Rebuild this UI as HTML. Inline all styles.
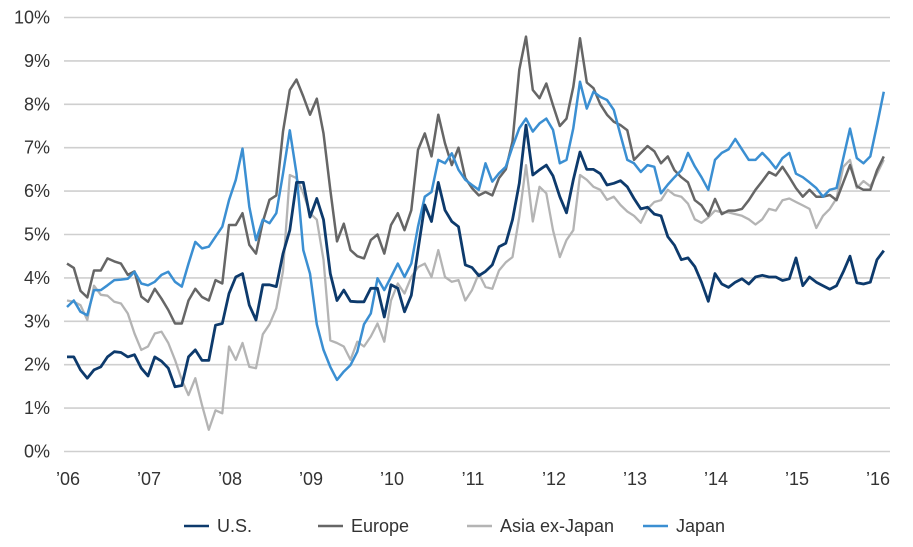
<!DOCTYPE html>
<html><head><meta charset="utf-8"><style>
body{margin:0;background:#fff;font-family:"Liberation Sans",sans-serif;}
svg{display:block}
text{font-family:"Liberation Sans",sans-serif;fill:#333;}
</style></head><body>
<svg id="chart" width="913" height="547" viewBox="0 0 913 547">
<g id="grid"></g>
<g id="ylabels"></g>
<g id="xlabels"></g>
<g id="lines"></g>
<g id="legend"></g>
</svg>
<script>
const yTicks=[0,1,2,3,4,5,6,7,8,9,10];
const yTickLabels=["0%","1%","2%","3%","4%","5%","6%","7%","8%","9%","10%"];
const xTickLabels=["’06","’07","’08","’09","’10","’11","’12","’13","’14","’15","’16"];
const usValues=[2.18,2.18,1.88,1.69,1.88,1.95,2.18,2.3,2.28,2.18,2.23,1.92,1.74,2.18,2.08,1.92,1.49,1.52,2.18,2.34,2.1,2.1,2.91,2.95,3.64,4.02,4.1,3.37,3.03,3.84,3.84,3.8,4.56,5.1,6.2,6.2,5.4,5.83,5.34,4.1,3.48,3.72,3.46,3.45,
3.45,3.76,3.76,3.1,3.84,3.76,3.22,3.6,4.64,5.68,5.3,6.2,5.56,5.3,5.18,4.3,4.24,4.05,4.15,4.3,4.72,4.8,5.34,6.18,7.52,6.37,6.49,6.6,6.35,5.87,5.5,6.26,6.9,6.5,6.5,6.4,6.14,6.18,6.24,6.1,
5.83,5.59,5.63,5.47,5.43,4.95,4.75,4.42,4.46,4.26,3.9,3.46,4.1,3.86,3.78,3.9,3.98,3.86,4.02,4.06,4.02,4.02,3.94,3.98,4.46,3.82,4.02,3.9,3.82,3.74,3.82,4.14,4.5,3.89,3.86,3.9,4.42,4.63];
const europeValues=[4.33,4.23,3.7,3.55,4.17,4.17,4.45,4.38,4.33,4.07,4.15,3.57,3.45,3.75,3.52,3.26,2.95,2.95,3.48,3.75,3.56,3.48,3.95,3.87,5.22,5.22,5.49,4.76,4.56,5.29,5.8,5.9,7.37,8.33,8.57,8.18,7.76,8.13,7.33,6.03,4.84,5.25,4.64,4.5,
4.45,4.87,5.0,4.56,5.22,5.49,5.1,5.56,6.95,7.33,6.8,7.76,7.1,6.6,7.0,6.3,6.07,5.9,5.98,5.9,6.3,6.5,7.14,8.8,9.56,8.33,8.14,8.48,7.98,7.5,7.67,8.4,9.52,8.5,8.37,8.0,7.76,7.6,7.52,7.4,
6.72,6.88,7.04,6.92,6.64,6.8,6.48,6.32,6.2,5.79,5.67,5.43,5.82,5.47,5.55,5.55,5.59,5.79,6.03,6.23,6.44,6.36,6.56,6.32,6.07,5.87,6.03,5.87,5.87,5.91,5.79,6.2,6.6,6.11,6.03,6.03,6.48,6.8];
const asiaValues=[3.48,3.45,3.37,3.03,3.82,3.61,3.59,3.45,3.41,3.18,2.72,2.34,2.42,2.72,2.76,2.5,2.11,1.65,1.3,1.69,1.07,0.5,0.95,0.88,2.42,2.11,2.5,1.95,1.92,2.7,2.93,3.3,4.16,6.37,6.3,5.95,5.49,5.34,4.42,2.56,2.5,2.42,2.11,2.53,
2.42,2.65,2.95,2.53,3.48,3.87,3.64,4.02,4.25,4.33,4.02,4.64,4.02,3.91,3.95,3.48,3.72,4.1,3.79,3.75,4.17,4.36,4.48,5.41,6.6,5.3,6.1,5.95,5.1,4.48,4.87,5.1,6.37,6.26,6.1,6.03,5.8,5.87,5.68,5.53,
5.43,5.27,5.59,5.75,5.79,6.03,5.91,5.87,5.71,5.35,5.27,5.39,5.55,5.51,5.51,5.47,5.43,5.35,5.23,5.35,5.59,5.55,5.79,5.83,5.75,5.67,5.59,5.15,5.43,5.59,5.83,6.56,6.72,6.07,6.23,6.11,6.4,6.72];
const japanValues=[3.33,3.48,3.22,3.14,3.72,3.72,3.83,3.95,3.96,3.98,4.14,3.87,3.83,3.91,4.07,4.14,3.91,3.8,4.33,4.83,4.68,4.72,4.95,5.18,5.79,6.26,6.98,5.64,4.87,5.34,5.26,5.49,6.4,7.4,6.4,4.64,4.1,2.93,2.34,1.95,1.65,1.84,1.99,2.3,
2.93,3.18,3.99,3.72,4.02,4.33,4.02,4.33,5.18,5.87,5.98,6.72,6.64,6.87,6.49,6.26,6.14,6.03,6.64,6.22,6.41,6.56,7.02,7.45,7.67,7.37,7.56,7.67,7.41,6.64,6.72,7.45,8.52,7.9,8.29,8.17,8.1,7.87,7.29,6.72,
6.64,6.44,6.6,6.56,5.95,6.15,6.32,6.48,6.88,6.57,6.32,6.03,6.72,6.88,6.96,7.2,6.96,6.72,6.72,6.88,6.72,6.52,6.76,6.88,6.4,6.32,6.2,6.07,5.87,6.03,6.07,6.76,7.44,6.76,6.64,6.8,7.52,8.29];
const seriesNames=["U.S.","Europe","Asia ex-Japan","Japan"];

const NS="http://www.w3.org/2000/svg";
const y0=451.5, pxPerPct=43.4, xStart=67, pxPerMonth=6.75;
function yScale(v){return y0-v*pxPerPct;}
function xScale(i){return xStart+i*pxPerMonth;}
function mk(tag,attrs,parent){const e=document.createElementNS(NS,tag);for(const k in attrs)e.setAttribute(k,attrs[k]);parent.appendChild(e);return e;}

const grid=document.getElementById('grid'), yl=document.getElementById('ylabels'), xl=document.getElementById('xlabels');
yTicks.forEach((t,i)=>{
  const l=mk('line',{x1:64,x2:890,y1:yScale(t),y2:yScale(t),stroke:'#cfcfcf','stroke-width':1.6},grid);
  
  
  const tx=mk('text',{x:50,y:yScale(t)+6,'text-anchor':'end','font-size':18},yl);
  tx.textContent=yTickLabels[i];
  
  
});
xTickLabels.forEach((lab,i)=>{
  const tx=mk('text',{x:xScale(i*12)+1,y:485,'text-anchor':'middle','font-size':18},xl);
  tx.textContent=lab;
  
  
});
const colors=['#0d3a6c','#666666','#b4b4b4','#3b8fd2'];
const widths=[2.8,2.5,2.3,2.5];
const allSeries=[usValues,europeValues,asiaValues,japanValues];
const linesG=document.getElementById('lines');
const order=[2,1,3,0];
const lineNames=['us-line','europe-line','asia-ex-japan-line','japan-line'];
order.forEach(s=>{
  const d=allSeries[s].map((v,i)=>(i?'L':'M')+xScale(i).toFixed(1)+','+yScale(v).toFixed(1)).join(' ');
  const p=mk('path',{d:d,fill:'none',stroke:colors[s],'stroke-width':widths[s],'stroke-linejoin':'round'},linesG);
  
  
});
const lg=document.getElementById('legend');
const legX=[184,318,467,643];
seriesNames.forEach((n,i)=>{
  const g=mk('g',{},lg);
  
  
  mk('line',{x1:legX[i],x2:legX[i]+25,y1:526,y2:526,stroke:colors[i],'stroke-width':2.5},g);
  const t=mk('text',{x:legX[i]+33,y:532,'font-size':18},g);
  t.textContent=n;
});
</script>
</body></html>
